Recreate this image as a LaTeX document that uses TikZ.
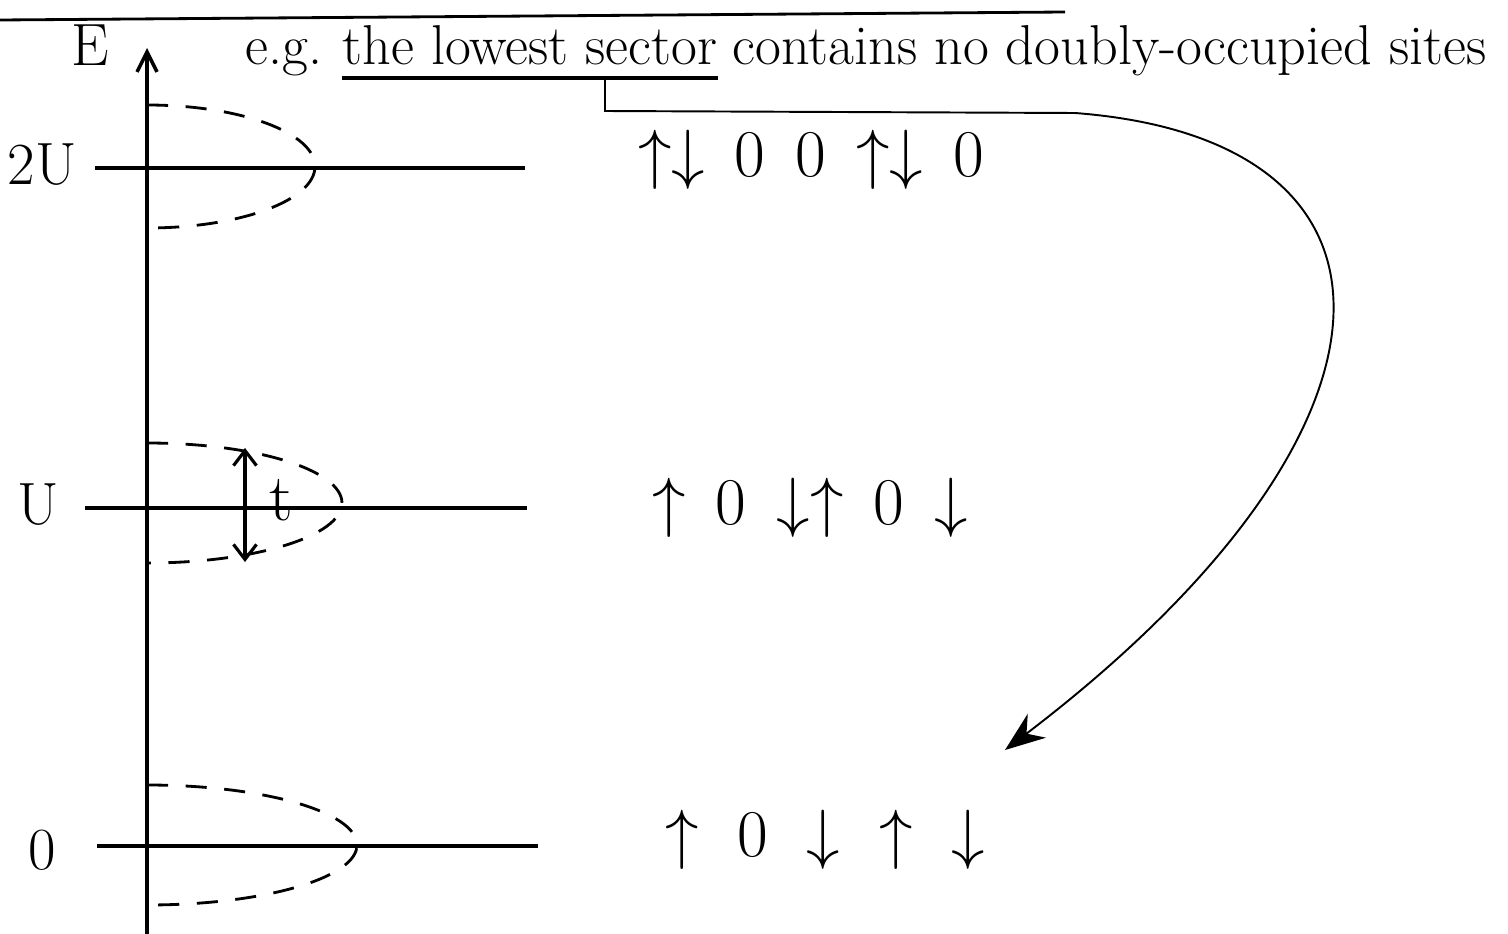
\documentclass[tikz,border=0pt]{standalone}
\usepackage{fix-cm}
\usetikzlibrary{arrows, arrows.meta, positioning, calc}
\tikzset{
  lev/.style={line width=2pt},
  axs/.style={-{Straight Barb[length=4mm,width=4mm]}, line width=2pt},
  band/.style={dash pattern=on 12pt off 10pt, line width=1.6pt},
  elab/.style={font=\fontsize{34}{38}\selectfont, inner sep=0pt},
  cfg/.style={font=\fontsize{38}{42}\selectfont, inner sep=0pt},
  note/.style={font=\fontsize{32}{36}\selectfont, inner sep=0pt, anchor=base},
  hop/.style={{Straight Barb[length=3mm,width=4.6mm]}-{Straight Barb[length=3mm,width=4.6mm]}, line width=1.8pt},
  pnt/.style={-{Stealth[length=8mm,width=6mm]}, line width=1.1pt}
}
\newcommand{\sgap}{\hspace{0.45em}}

\begin{document}
\begin{tikzpicture}
	\useasboundingbox (0,0) rectangle (30.16,-18.68);
	% cut-off line at the top
	\draw[line width=1.6pt] (0,-0.4) -- (21.3,-0.24);
	% energy axis
	\coordinate (ax0) at (2.94,-18.68);
	\coordinate (ax1) at (2.94,-0.96);
	\draw[axs] (ax0) -- (ax1);
	\node[elab] (E) at (1.8,-0.9) {E};
	% levels and their bands
	\node[elab] (l2U) at (0.84,-3.3) {2U};
	\node[elab] (lU) at (0.76,-10.1) {U};
	\node[elab] (l0) at (0.84,-17.0) {0};
	\draw[lev] (1.9,-3.36) -- (10.5,-3.36);
	\draw[lev] (1.7,-10.16) -- (10.54,-10.16);
	\draw[lev] (1.94,-16.92) -- (10.76,-16.92);
	\draw[band] (2.94,-2.1) arc[start angle=90, end angle=-90, x radius=3.36, y radius=1.23];
	\draw[band] (2.94,-8.86) arc[start angle=90, end angle=-90, x radius=3.9, y radius=1.2];
	\draw[band] (2.94,-15.7) arc[start angle=90, end angle=-90, x radius=4.2, y radius=1.2];
	% hopping
	\coordinate (h1) at (4.9,-8.96);
	\coordinate (h2) at (4.9,-11.24);
	\draw[hop] (h1) -- (h2);
	\node[elab, font=\fontsize{38}{42}\selectfont] (t) at (5.62,-10.0) {t};
	% configurations
	\node[cfg] (c2U) at (16.22,-3.2) {$\uparrow\downarrow$\sgap 0\sgap 0\sgap $\uparrow\downarrow$\sgap 0};
	\node[cfg] (cU) at (16.2,-10.16) {$\uparrow$\sgap 0\sgap $\downarrow\uparrow$\sgap 0\sgap $\downarrow$};
	\node[cfg] (c0) at (16.5,-16.8) {$\uparrow$\hspace{0.58em}0\hspace{0.58em}$\downarrow$\hspace{0.58em}$\uparrow$\hspace{0.58em}$\downarrow$};
	% remark
	\node[note, anchor=base west] (eg) at (4.9,-1.3) {e.g.};
	\node[note, base right=4mm of eg] (ul) {the lowest sector};
	\node[note, base right=3mm of ul] (rest) {contains no doubly-occupied sites};
	\draw[line width=2.4pt] ($(ul.base west)+(0,-0.26)$) -- ($(ul.base east)+(0,-0.26)$);
	\coordinate (tk) at ($(ul.base west)!0.7!(ul.base east)+(0,-0.26)$);
	\coordinate (tgt) at (20.1,-15);
	\draw[pnt] (tk) -- ++(0,-0.66) -- (21.5,-2.26) .. controls (28.6,-2.8) and (28.5,-8.6) .. (tgt);
\end{tikzpicture}
\end{document}
